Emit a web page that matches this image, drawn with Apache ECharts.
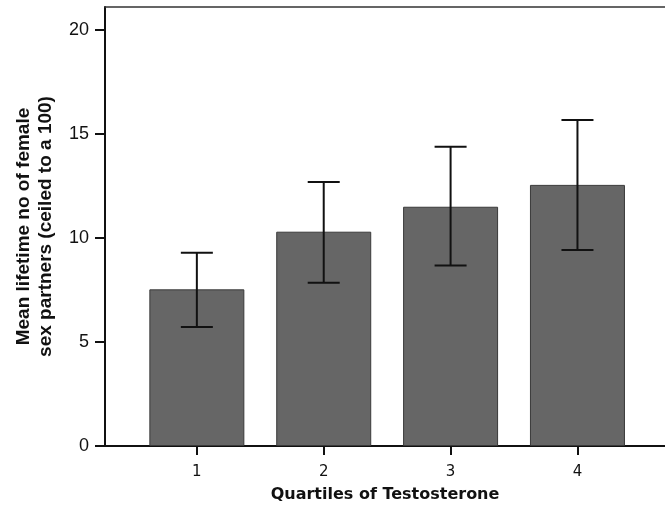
<!DOCTYPE html>
<html>
<head>
<meta charset="utf-8">
<script src="https://cdn.jsdelivr.net/npm/echarts@6/dist/echarts.min.js"></script>
<style>html,body{margin:0;padding:0;background:#fff}#chart{width:665px;height:513px}</style>
</head>
<body>
<div id="chart"></div>
<script>
const categories = ['1', '2', '3', '4'];
const positions = [1, 2, 3, 4];
const means = [7.53, 10.30, 11.50, 12.55];
const ciLow = [5.72, 7.85, 8.67, 9.42];
const ciHigh = [9.29, 12.69, 14.38, 15.67];
const yTicks = [0, 5, 10, 15, 20];

const chart = echarts.init(document.getElementById('chart'));
const barData = positions.map((p, i) => [p, means[i]]);
const errData = positions.map((p, i) => [p, ciLow[i], ciHigh[i]]);

chart.setOption({
  animation: false,
  grid: { left: 105, right: 0, top: 7, bottom: 67 },
  xAxis: [{
    type: 'value', min: 0.276, max: 4.69,
    splitLine: { show: false },
    axisLine: { show: true, lineStyle: { color: '#111', width: 2 } },
    axisTick: { show: true, customValues: positions, length: 9, lineStyle: { color: '#111', width: 2 } },
    axisLabel: {
      customValues: positions, margin: 19,
      formatter: v => categories[positions.indexOf(v)],
      fontFamily: 'DejaVu Sans', fontSize: 15, color: '#111'
    },
    name: 'Quartiles of Testosterone', nameLocation: 'middle', nameGap: 41,
    nameTextStyle: { fontFamily: 'DejaVu Sans', fontWeight: 'bold', fontSize: 16, color: '#111' }
  }, {
    type: 'value', position: 'top', min: 0.276, max: 4.69,
    splitLine: { show: false }, axisTick: { show: false }, axisLabel: { show: false },
    axisLine: { show: true, lineStyle: { color: '#333', width: 1.5 } }
  }],
  yAxis: {
    type: 'value', min: 0, max: 21.1,
    splitLine: { show: false },
    axisLine: { show: true, lineStyle: { color: '#111', width: 2 } },
    axisTick: { show: true, customValues: yTicks, length: 10, lineStyle: { color: '#111', width: 2 } },
    axisLabel: { customValues: yTicks, margin: 16, fontFamily: 'Liberation Sans', fontSize: 18, color: '#111' },
    name: 'Mean lifetime no of female\nsex partners (ceiled to a 100)',
    nameLocation: 'middle', nameGap: 48,
    nameTextStyle: { fontFamily: 'Liberation Sans', fontWeight: 'bold', fontSize: 19, color: '#111', lineHeight: 22 }
  },
  series: [{
    type: 'bar', data: barData, barWidth: 95,
    itemStyle: { color: '#666666', borderColor: '#3a3a3a', borderWidth: 1 }
  }, {
    type: 'custom', data: errData, z: 5,
    renderItem: function (params, api) {
      const x = api.value(0);
      const lo = api.coord([x, api.value(1)]);
      const hi = api.coord([x, api.value(2)]);
      const hw = 16;
      const st = { stroke: '#111', lineWidth: 2 };
      return { type: 'group', children: [
        { type: 'line', shape: { x1: lo[0], y1: lo[1], x2: hi[0], y2: hi[1] }, style: st },
        { type: 'line', shape: { x1: lo[0] - hw, y1: lo[1], x2: lo[0] + hw, y2: lo[1] }, style: st },
        { type: 'line', shape: { x1: hi[0] - hw, y1: hi[1], x2: hi[0] + hw, y2: hi[1] }, style: st }
      ]};
    }
  }]
});
</script>
</body>
</html>
